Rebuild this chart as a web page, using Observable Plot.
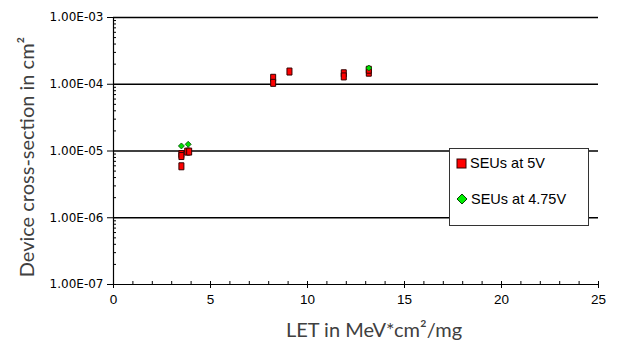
<!DOCTYPE html>
<html>
<head>
<meta charset="utf-8">
<script src="https://cdn.jsdelivr.net/npm/d3@7"></script>
<script src="https://cdn.jsdelivr.net/npm/@observablehq/plot@0.6"></script>
<style>
  html, body { margin: 0; padding: 0; background: #fff; }
  #wrap { position: relative; width: 617px; height: 347px; }
  #legend { position: absolute; left: 449px; top: 148px; width: 138px; height: 76px;
    border: 1px solid #333; background: #fff; font-family: "Liberation Sans", Arial, sans-serif;
    font-size: 14.5px; color: #000; }
  .item { position: absolute; left: 6px; display: flex; align-items: center; }
  .item svg { margin-right: 3px; }
</style>
</head>
<body>
<div id="wrap"></div>
<script>
// LET values (MeV*cm2/mg) and device cross-sections (cm2)
const seu5Let = [3.5, 3.5, 3.5, 3.8, 3.9, 8.23, 8.23, 9.07, 11.87, 11.87, 13.16, 13.16];
const seu5Xs  = [9.0e-6, 8.4e-6, 5.9e-6, 9.8e-6, 9.8e-6, 1.25e-4, 1.05e-4, 1.55e-4, 1.46e-4, 1.31e-4, 1.49e-4, 1.65e-4];
const seu475Let = [3.5, 3.85, 13.16];
const seu475Xs  = [1.19e-5, 1.26e-5, 1.75e-4];
const xTicks = [0, 5, 10, 15, 20, 25];
const yTicks = [1e-7, 1e-6, 1e-5, 1e-4, 1e-3];
const seriesNames = ["SEUs at 5V", "SEUs at 4.75V"];

const seu5 = seu5Let.map((x, i) => ({x, y: seu5Xs[i]}));
const seu475 = seu475Let.map((x, i) => ({x, y: seu475Xs[i]}));
const xMinor = d3.range(0, 26, 1);
const yMinor = [];
for (const d of yTicks.slice(0, -1)) for (let k = 2; k <= 9; k++) yMinor.push(d * k);

const fmt = d => {
  const e = Math.round(Math.log10(d));
  const s = e < 0 ? "-" : "+";
  return "1.00E" + s + String(Math.abs(e)).padStart(2, "0");
};

const rectSym = { draw(ctx, size) { const w = 5, h = 7; ctx.rect(-w/2, -h/2, w, h); } };
const diaSym = { draw(ctx, size) { const r = 3; ctx.moveTo(0, -r); ctx.lineTo(r, 0); ctx.lineTo(0, r); ctx.lineTo(-r, 0); ctx.closePath(); } };

const plot = Plot.plot({
  width: 617,
  height: 347,
  marginLeft: 113,
  marginRight: 19,
  marginTop: 17,
  marginBottom: 63,
  style: { fontFamily: "'Liberation Sans', Arial, sans-serif", background: "#fff", overflow: "visible" },
  x: { domain: [0, 25] },
  y: { type: "log", domain: [1e-7, 1e-3] },
  marks: [
    Plot.ruleY(yTicks.slice(1), { x1: 0, x2: 25, stroke: "#000", strokeWidth: 1.4 }),
    Plot.ruleX([0], { stroke: "#000", strokeWidth: 1.2 }),
    Plot.ruleY([1e-7], { x1: 0, x2: 25, stroke: "#000", strokeWidth: 1.2 }),
    Plot.axisX({ ticks: xMinor, tickSize: -3, tickFormat: () => "", stroke: "#000", label: null }),
    Plot.axisX({ ticks: xTicks, tickSize: 4, tickPadding: 6, tickFormat: d => String(d), fontSize: 13.5, fill: "#000", stroke: "#000", label: null }),
    Plot.axisY({ ticks: yMinor, tickSize: -3, tickFormat: () => "", stroke: "#000", label: null }),
    Plot.axisY({ ticks: yTicks, tickSize: 6, tickPadding: 4, tickFormat: fmt, fontSize: 12, fontFamily: "'DejaVu Sans', sans-serif", fill: "#000", stroke: "#000", label: null }),
    Plot.dot(seu5, { x: "x", y: "y", symbol: rectSym, fill: "#ff0000", stroke: "#330000", strokeWidth: 1 }),
    Plot.dot(seu475, { x: "x", y: "y", symbol: diaSym, fill: "#00dd00", stroke: "#004400", strokeWidth: 0.8 }),
    Plot.text(["LET in MeV*cm²/mg"], { frameAnchor: "bottom", lineAnchor: "middle", textAnchor: "middle", dx: 18, dy: 46, fontSize: 20, fill: "#404040", fontFamily: "Lato, 'Open Sans', sans-serif" }),
    Plot.text(["Device cross-section in cm²"], { frameAnchor: "left", lineAnchor: "middle", textAnchor: "middle", dx: -86, dy: 6, rotate: -90, fontSize: 20, fill: "#404040", fontFamily: "Lato, 'Open Sans', sans-serif" })
  ]
});

const wrap = document.getElementById("wrap");
wrap.appendChild(plot);

const legend = document.createElement("div");
legend.id = "legend";
const items = [
  { name: seriesNames[0], svg: '<svg width="11" height="11"><rect x="1" y="1" width="9" height="9" fill="#ff0000" stroke="#330000"/></svg>', top: 6 },
  { name: seriesNames[1], svg: '<svg width="12" height="12"><path d="M6 1 L11 6 L6 11 L1 6 Z" fill="#00ee00" stroke="#004400"/></svg>', top: 42 }
];
for (const it of items) {
  const el = document.createElement("div");
  el.className = "item";
  el.style.top = it.top + "px";
  el.innerHTML = it.svg + "<span>" + it.name + "</span>";
  legend.appendChild(el);
}
wrap.appendChild(legend);
</script>
</body>
</html>
